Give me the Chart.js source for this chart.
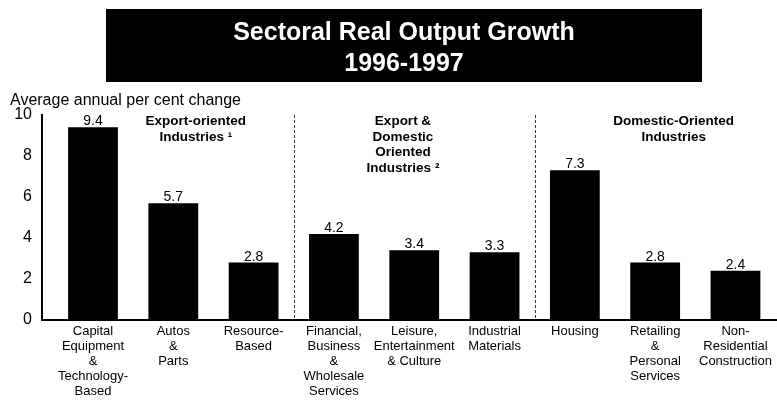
<!DOCTYPE html>
<html>
<head>
<meta charset="utf-8">
<script src="https://cdn.jsdelivr.net/npm/chart.js@4/dist/chart.umd.min.js"></script>
<style>
  html, body { margin: 0; padding: 0; background: #fff; }
  canvas { display: block; }
</style>
</head>
<body>
<canvas id="chart" width="777" height="400"></canvas>
<script>
// Sector names, one array entry per line of the axis label
const sectors = [
  ['Capital', 'Equipment', '&', 'Technology-', 'Based'],
  ['Autos', '&', 'Parts'],
  ['Resource-', 'Based'],
  ['Financial,', 'Business', '&', 'Wholesale', 'Services'],
  ['Leisure,', 'Entertainment', '& Culture'],
  ['Industrial', 'Materials'],
  ['Housing'],
  ['Retailing', '&', 'Personal', 'Services'],
  ['Non-', 'Residential', 'Construction']
];

// Average annual per cent change, 1996-1997
const growth = [9.4, 5.7, 2.8, 4.2, 3.4, 3.3, 7.3, 2.8, 2.4];

// Industry groupings (number of sectors in each, left to right)
const groupTitles = [
  ['Export-oriented', 'Industries \u00B9'],
  ['Export &', 'Domestic', 'Oriented', 'Industries \u00B2'],
  ['Domestic-Oriented', 'Industries']
];
const groupSizes = [3, 3, 3];

const yTicks = [0, 2, 4, 6, 8, 10];

const chartTitle = ['Sectoral Real Output Growth', '1996-1997'];
const axisCaption = 'Average annual per cent change';

const FONT = '"Liberation Sans", Arial, Helvetica, sans-serif';

// where each group caption sits, in category units along the x scale
const groupCaptionAt = [1.28, 3.86, 7.23];

const decorations = {
  id: 'decorations',
  beforeDraw(chart) {
    const ctx = chart.ctx;
    ctx.save();
    ctx.fillStyle = '#fff';
    ctx.fillRect(0, 0, chart.width, chart.height);

    // black title band
    ctx.fillStyle = '#000';
    ctx.fillRect(106, 9, 596, 73);
    ctx.fillStyle = '#fff';
    ctx.font = 'bold 25px ' + FONT;
    ctx.textAlign = 'center';
    ctx.textBaseline = 'alphabetic';
    ctx.fillText(chartTitle[0], 404, 40);
    ctx.fillText(chartTitle[1], 404, 70.5);

    // unit caption above the value axis
    ctx.fillStyle = '#000';
    ctx.font = '16px ' + FONT;
    ctx.textAlign = 'left';
    ctx.fillText(axisCaption, 10, 105);
    ctx.restore();
  },
  afterDatasetsDraw(chart) {
    const { ctx, chartArea } = chart;
    const x = chart.scales.x;
    ctx.save();

    // dashed separators between the groups
    ctx.strokeStyle = '#333';
    ctx.lineWidth = 1;
    ctx.setLineDash([3, 2]);
    let count = 0;
    groupSizes.slice(0, -1).forEach(n => {
      count += n;
      const px = Math.round(x.getPixelForValue(count - 0.5)) + 0.5;
      ctx.beginPath();
      ctx.moveTo(px, chartArea.top);
      ctx.lineTo(px, chartArea.bottom);
      ctx.stroke();
    });
    ctx.setLineDash([]);

    // value above each bar
    ctx.fillStyle = '#000';
    ctx.font = '14px ' + FONT;
    ctx.textAlign = 'center';
    ctx.textBaseline = 'alphabetic';
    chart.getDatasetMeta(0).data.forEach((bar, i) => {
      ctx.fillText(growth[i].toFixed(1), bar.x, bar.y - 2);
    });

    // group captions
    ctx.font = 'bold 13.5px ' + FONT;
    groupTitles.forEach((lines, g) => {
      const cx = x.getPixelForValue(groupCaptionAt[g]);
      lines.forEach((t, k) => ctx.fillText(t, cx, chartArea.top + 10 + k * 15.5));
    });
    ctx.restore();
  }
};

new Chart(document.getElementById('chart'), {
  type: 'bar',
  data: {
    datasets: [{
      data: growth.map((v, i) => ({ x: i, y: v })),
      backgroundColor: '#000',
      borderWidth: 0,
      barPercentage: 0.62,
      categoryPercentage: 1.0
    }]
  },
  options: {
    responsive: false,
    animation: false,
    devicePixelRatio: 1,
    layout: { padding: { top: 115, left: 0, right: 0, bottom: 0 } },
    plugins: {
      legend: { display: false },
      tooltip: { enabled: false },
      title: { display: false }
    },
    scales: {
      x: {
        type: 'linear',
        offset: false,
        min: -0.635,
        max: 8.517,
        grid: { display: false, drawTicks: false, offset: false },
        border: { display: true, color: '#000', width: 2 },
        ticks: {
          autoSkip: false,
          maxRotation: 0,
          minRotation: 0,
          padding: 4,
          color: '#000',
          font: { size: 13, family: FONT, lineHeight: 15 / 13 },
          callback: v => sectors[Math.round(v)]
        },
        afterBuildTicks: s => { s.ticks = sectors.map((_, i) => ({ value: i })); },
        afterFit: s => { s.height = 80; s.paddingLeft = 0; s.paddingRight = 0; }
      },
      y: {
        min: 0,
        max: 10,
        grid: { display: false, drawTicks: false },
        border: { display: true, color: '#000', width: 2 },
        ticks: {
          padding: 10,
          color: '#000',
          font: { size: 16, family: FONT }
        },
        afterBuildTicks: s => { s.ticks = yTicks.map(v => ({ value: v })); },
        afterFit: s => { s.width = 42; }
      }
    }
  },
  plugins: [decorations]
});
</script>
</body>
</html>
